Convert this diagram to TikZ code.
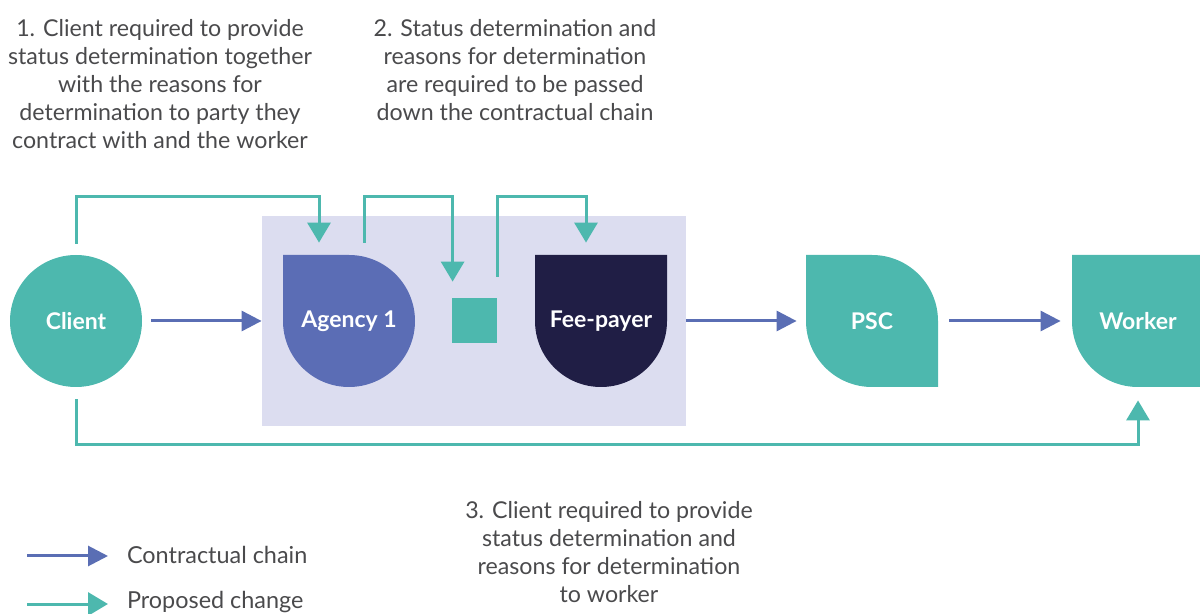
\documentclass[tikz,border=0pt]{standalone}
\usepackage{fontspec}
\setmainfont{Lato}
\usepackage{xcolor}
\usepackage{tikz}
\usetikzlibrary{arrows.meta, positioning}

\definecolor{teal}{HTML}{4DB8AE}
\definecolor{chainblue}{HTML}{5A6EB4}
\definecolor{agencyblue}{HTML}{5B6DB5}
\definecolor{navy}{HTML}{201E45}
\definecolor{lavender}{HTML}{DCDDF0}
\definecolor{textgrey}{HTML}{4A4A4C}

\tikzset{
  shapebox/.style={minimum size=66pt, inner sep=0pt, text=white,
    font=\fontsize{11.5}{14}\selectfont\bfseries},
  clientbox/.style={shapebox, circle, fill=teal},
  agencybox/.style={shapebox, path picture={
    \fill[agencyblue] (path picture bounding box.north west)
      -- (path picture bounding box.north)
      arc[start angle=90, end angle=-180, radius=33pt] -- cycle;}},
  feebox/.style={shapebox, path picture={
    \fill[navy] (path picture bounding box.north west)
      -- (path picture bounding box.north east)
      -- (path picture bounding box.east)
      arc[start angle=0, end angle=-180, radius=33pt] -- cycle;}},
  pscbox/.style={shapebox, path picture={
    \fill[teal] (path picture bounding box.north west)
      -- (path picture bounding box.north)
      arc[start angle=90, end angle=0, radius=33pt]
      -- (path picture bounding box.south east)
      -- (path picture bounding box.south)
      arc[start angle=270, end angle=180, radius=33pt] -- cycle;}},
  workerbox/.style={shapebox, path picture={
    \fill[teal] (path picture bounding box.north west)
      -- (path picture bounding box.north east)
      -- (path picture bounding box.south east)
      -- (path picture bounding box.south)
      arc[start angle=270, end angle=180, radius=33pt] -- cycle;}},
  note/.style={align=center, text=textgrey, font=\fontsize{11.6}{14}\selectfont},
  legendtext/.style={anchor=west, text=textgrey, font=\fontsize{11.7}{14}\selectfont},
  chain/.style={chainblue, line width=1.5pt, -{Triangle[length=10pt, width=10pt]}},
  change/.style={teal, line width=1.5pt, -{Triangle[length=10pt, width=11.5pt]}},
}

\begin{document}
\begin{tikzpicture}[x=0.5pt, y=-0.5pt]
    \useasboundingbox (0,0) rectangle (1200,614);

    % Gruppe hinter Agency und Fee-payer
    \node[fill=lavender, minimum width=212pt, minimum height=105pt, inner sep=0pt] (group) at (474,321) {};

    % Knoten
    \node[clientbox] (client) at (76,321) {Client};
    \node[agencybox] (agency) at (349,321) {Agency 1};
    \node[fill=teal, minimum size=22.5pt, inner sep=0pt] (sq) at (474.5,320.5) {};
    \node[feebox] (fee) at (601,321) {Fee-payer};
    \node[pscbox] (psc) at (872,321) {PSC};
    \node[workerbox] (worker) at (1138,321) {Worker};

    % Vertragskette
    \draw[chain, shorten <=4.5pt] (client.east) -- (group.west);
    \draw[chain, shorten >=4.5pt] (group.east) -- (psc.west);
    \draw[chain, shorten <=5.5pt, shorten >=5.5pt] (psc.east) -- (worker.west);

    % Vorgeschlagene Änderung
    \coordinate (top) at (0,197);
    \coordinate (bottom) at (0,445);
    \draw[change] ([yshift=5.5pt]client.north) |- ([xshift=-15pt]agency.north |- top)
        -- ([xshift=-15pt, yshift=6pt]agency.north);
    \draw[change] ([xshift=7.5pt, yshift=6pt]agency.north) |- ([xshift=0.5pt]sq.north west |- top)
        -- ([xshift=0.5pt, yshift=8pt]sq.north west);
    \draw[change] ([yshift=10.5pt]sq.north east) |- ([xshift=-7.5pt]fee.north |- top)
        -- ([xshift=-7.5pt, yshift=6pt]fee.north);
    \draw[change] ([yshift=-6pt]client.south) |- (worker.south |- bottom)
        -- ([yshift=-6.5pt]worker.south);

    % Texte
    \node[note] (n1) at (160,84) {1. Client required to provide\\status determination together\\with the reasons for\\determination to party they\\contract with and the worker};
    \node[note] (n2) at (515,70) {2. Status determination and\\reasons for determination\\are required to be passed\\down the contractual chain};
    \node[note] (n3) at (609,552) {3. Client required to provide\\status determination and\\reasons for determination\\to worker};

    % Legende
    \node[legendtext] (lchain) at (120,555) {Contractual chain};
    \node[legendtext] (lchange) at (120,602) {Proposed change};
    \coordinate (lc1) at (27,556);
    \coordinate (lc2) at (27,604);
    \draw[chain] (lc1) -- (lc1 -| 108,0);
    \draw[change] (lc2) -- (lc2 -| 108,0);
\end{tikzpicture}
\end{document}
